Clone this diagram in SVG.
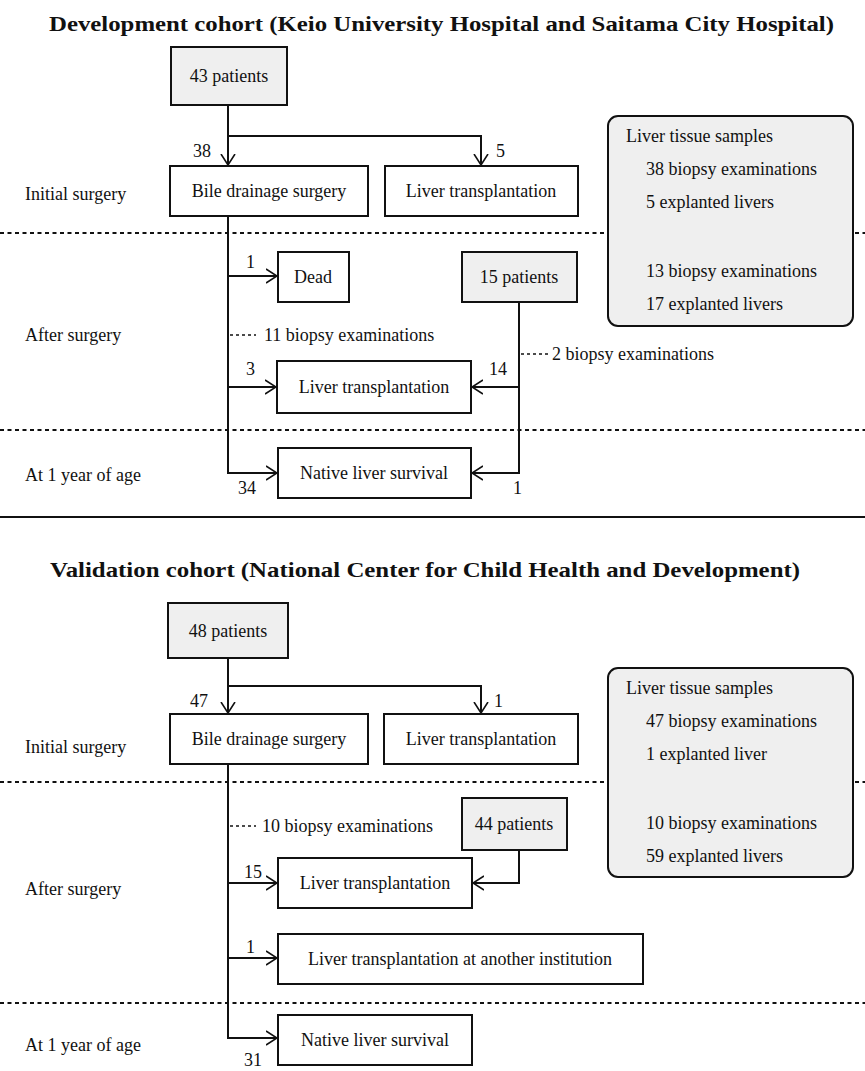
<svg xmlns="http://www.w3.org/2000/svg" width="865" height="1071" viewBox="0 0 865 1071">
<style>
text{font-family:"Liberation Serif","Times New Roman",serif;font-size:18px;fill:#111}
.title{font-weight:bold;font-size:21px}
.box{fill:#fff;stroke:#111;stroke-width:2}
.gbox{fill:#efefef;stroke:#111;stroke-width:2}
.con{fill:none;stroke:#111;stroke-width:2}
.dash{fill:none;stroke:#111;stroke-width:1.6;stroke-dasharray:3,3}
.sep{fill:none;stroke:#111;stroke-width:2;stroke-dasharray:4,3.5}
.c{text-anchor:middle}
</style>
<defs>
<marker id="arr" viewBox="0 0 12 16" refX="11" refY="8" markerWidth="12" markerHeight="16" orient="auto" markerUnits="userSpaceOnUse">
<path d="M0,1 L11,8 L0,15" fill="none" stroke="#111" stroke-width="1.6"/>
</marker>
</defs>
<rect width="865" height="1071" fill="#fff"/>

<g id="separators">
<line class="sep" x1="0" y1="233" x2="865" y2="233"/>
<line class="sep" x1="0" y1="430" x2="865" y2="430"/>
<line x1="0" y1="517" x2="865" y2="517" stroke="#111" stroke-width="2"/>
<line class="sep" x1="0" y1="782" x2="865" y2="782"/>
<line class="sep" x1="0" y1="1003" x2="865" y2="1003"/>
</g>

<g id="titles">
<text class="title" x="49" y="31" textLength="785" lengthAdjust="spacingAndGlyphs">Development cohort (Keio University Hospital and Saitama City Hospital)</text>
<text class="title" x="50" y="577" textLength="750" lengthAdjust="spacingAndGlyphs">Validation cohort (National Center for Child Health and Development)</text>
</g>

<g id="row-labels">
<text x="25" y="200">Initial surgery</text>
<text x="25" y="341">After surgery</text>
<text x="25" y="481">At 1 year of age</text>
<text x="25" y="753">Initial surgery</text>
<text x="25" y="895">After surgery</text>
<text x="25" y="1051">At 1 year of age</text>
</g>

<!-- Development cohort nodes -->
<g id="d-43patients"><rect class="gbox" x="171" y="47" width="116" height="58"/><text class="c" x="229" y="82">43 patients</text></g>
<g id="d-bile"><rect class="box" x="170" y="166" width="198" height="50"/><text class="c" x="269" y="197">Bile drainage surgery</text></g>
<g id="d-lt1"><rect class="box" x="385" y="166" width="193" height="50"/><text class="c" x="481" y="197">Liver transplantation</text></g>
<g id="d-tissue"><rect class="gbox" x="608" y="116" width="245" height="210" rx="10"/>
<text x="626" y="142">Liver tissue samples</text>
<text x="646" y="175">38 biopsy examinations</text>
<text x="646" y="208">5 explanted livers</text>
<text x="646" y="277">13 biopsy examinations</text>
<text x="646" y="310">17 explanted livers</text></g>
<g id="d-dead"><rect class="box" x="278" y="252" width="71" height="50"/><text class="c" x="313" y="283">Dead</text></g>
<g id="d-15patients"><rect class="gbox" x="462" y="252" width="115" height="50"/><text class="c" x="519" y="283">15 patients</text></g>
<g id="d-lt2"><rect class="box" x="277" y="361" width="194" height="52"/><text class="c" x="374" y="393">Liver transplantation</text></g>
<g id="d-native"><rect class="box" x="278" y="448" width="193" height="50"/><text class="c" x="374" y="479">Native liver survival</text></g>

<!-- Validation cohort nodes -->
<g id="v-48patients"><rect class="gbox" x="168" y="603" width="120" height="55"/><text class="c" x="228" y="637">48 patients</text></g>
<g id="v-bile"><rect class="box" x="170" y="714" width="198" height="50"/><text class="c" x="269" y="745">Bile drainage surgery</text></g>
<g id="v-lt1"><rect class="box" x="384" y="714" width="194" height="50"/><text class="c" x="481" y="745">Liver transplantation</text></g>
<g id="v-tissue"><rect class="gbox" x="608" y="668" width="245" height="209" rx="10"/>
<text x="626" y="694">Liver tissue samples</text>
<text x="646" y="727">47 biopsy examinations</text>
<text x="646" y="760">1 explanted liver</text>
<text x="646" y="829">10 biopsy examinations</text>
<text x="646" y="862">59 explanted livers</text></g>
<g id="v-44patients"><rect class="gbox" x="462" y="798" width="105" height="52"/><text class="c" x="514" y="830">44 patients</text></g>
<g id="v-lt2"><rect class="box" x="278" y="858" width="194" height="50"/><text class="c" x="375" y="889">Liver transplantation</text></g>
<g id="v-lt3"><rect class="box" x="278" y="934" width="365" height="50"/><text class="c" x="460" y="965">Liver transplantation at another institution</text></g>
<g id="v-native"><rect class="box" x="278" y="1015" width="194" height="50"/><text class="c" x="375" y="1046">Native liver survival</text></g>

<g id="connectors">
<path class="con" d="M228,105 V165" marker-end="url(#arr)"/>
<path class="con" d="M228,136 H481 V165" marker-end="url(#arr)"/>
<path class="con" d="M228,216 V473 H277" marker-end="url(#arr)"/>
<path class="con" d="M228,276 H277" marker-end="url(#arr)"/>
<path class="con" d="M228,387 H276" marker-end="url(#arr)"/>
<path class="con" d="M519,302 V473 H472" marker-end="url(#arr)"/>
<path class="con" d="M519,387 H472" marker-end="url(#arr)"/>
<path class="dash" d="M230,335 H256"/>
<path class="dash" d="M521,354 H548"/>

<path class="con" d="M228,658 V713" marker-end="url(#arr)"/>
<path class="con" d="M228,686 H481 V713" marker-end="url(#arr)"/>
<path class="con" d="M228,764 V1038 H277" marker-end="url(#arr)"/>
<path class="con" d="M228,883 H277" marker-end="url(#arr)"/>
<path class="con" d="M228,958 H277" marker-end="url(#arr)"/>
<path class="con" d="M519,850 V883 H473" marker-end="url(#arr)"/>
<path class="dash" d="M230,826 H256"/>
</g>

<g id="connector-labels">
<text x="193" y="157">38</text>
<text x="496" y="157">5</text>
<text x="246" y="268">1</text>
<text x="264" y="341">11 biopsy examinations</text>
<text x="552" y="360">2 biopsy examinations</text>
<text x="246" y="375">3</text>
<text x="489" y="375">14</text>
<text x="238" y="494">34</text>
<text x="513" y="494">1</text>

<text x="190" y="707">47</text>
<text x="494" y="707">1</text>
<text x="262" y="832">10 biopsy examinations</text>
<text x="244" y="878">15</text>
<text x="246" y="953">1</text>
<text x="244" y="1066">31</text>
</g>
</svg>
